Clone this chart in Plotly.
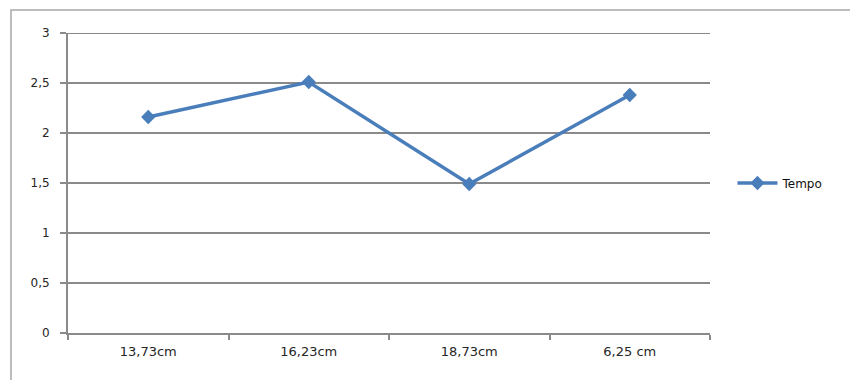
import plotly.graph_objects as go

# Tempo measured at each distance
categorias = ["13,73cm", "16,23cm", "18,73cm", "6,25 cm"]
tempo = [2.16, 2.51, 1.49, 2.38]
y_ticks = [0, 0.5, 1, 1.5, 2, 2.5, 3]
y_tick_labels = ["0", "0,5", "1", "1,5", "2", "2,5", "3"]

W, H = 850, 380
L, R, T, B = 68, 140, 33, 47
pw, ph = W - L - R, H - T - B

fig = go.Figure()
fig.add_trace(go.Scatter(
    x=categorias, y=tempo, name="Tempo", mode="lines+markers",
    line=dict(color="#4a7ebb", width=3.5),
    marker=dict(symbol="diamond", size=11, color="#4a7ebb"),
))

grid_col = "#8a8a8a"
fig.update_layout(
    width=W, height=H,
    margin=dict(l=L, r=R, t=T, b=B),
    paper_bgcolor="white", plot_bgcolor="white",
    font=dict(family="DejaVu Sans", size=12, color="#262626"),
    showlegend=True,
    legend=dict(x=1.035, y=0.5, xanchor="left", yanchor="middle",
                font=dict(size=12, color="#111111"),
                itemwidth=40, bgcolor="rgba(0,0,0,0)"),
    xaxis=dict(
        type="category", tickson="boundaries", showgrid=False,
        showline=True, linecolor=grid_col, linewidth=2,
        ticks="outside", ticklen=5, tickcolor=grid_col, tickwidth=2,
        ticklabelstandoff=5, tickfont=dict(size=13),
        range=[-0.5, 3.5], fixedrange=True,
    ),
    yaxis=dict(
        range=[0, 3], tickvals=y_ticks, ticktext=y_tick_labels,
        showgrid=True, gridcolor=grid_col, gridwidth=2,
        showline=True, linecolor=grid_col, linewidth=2,
        ticks="outside", ticklen=6, tickcolor=grid_col, tickwidth=2,
        ticklabelstandoff=8,
        zeroline=False, fixedrange=True,
    ),
)

# Top gridline at the upper end of the value axis
fig.add_shape(type="line", xref="paper", yref="y", x0=0, x1=1, y0=3, y1=3,
              line=dict(color=grid_col, width=2), layer="below")

# Outer chart-area frame (top and left edges fall inside the canvas)
fig.add_shape(
    type="rect", xref="paper", yref="paper",
    x0=(11 - L) / pw, x1=(W + 20 - L) / pw,
    y0=-(H + 20 - (H - B)) / ph, y1=(H - B - 10) / ph,
    line=dict(color="#a8a8a8", width=1.5), fillcolor="rgba(0,0,0,0)",
    layer="below",
)

fig.write_html("out.html")
